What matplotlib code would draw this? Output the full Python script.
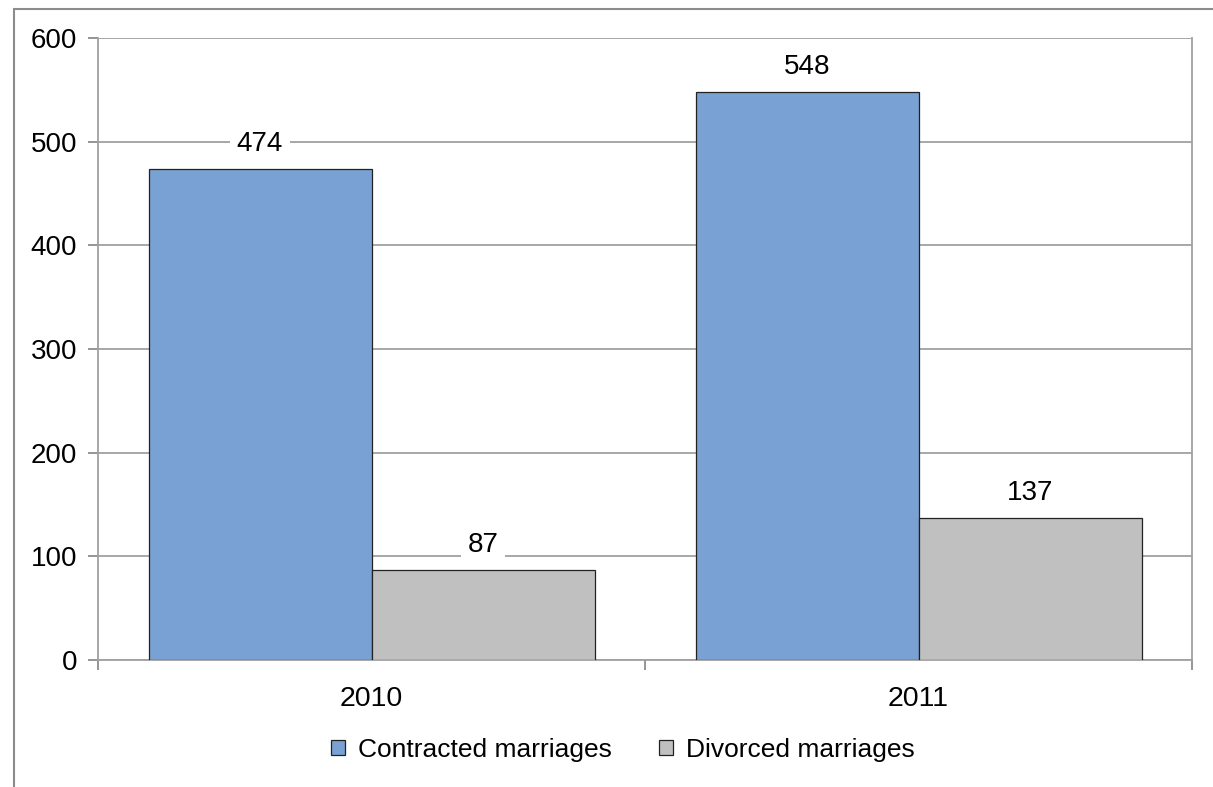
import matplotlib
matplotlib.use("Agg")
import matplotlib.pyplot as plt
from matplotlib.patches import Rectangle
import numpy as np

plt.rcParams['font.family'] = ['Liberation Sans', 'DejaVu Sans']

years = ["2010", "2011"]
contracted = [474, 548]
divorced = [87, 137]
series_names = ["Contracted marriages", "Divorced marriages"]
yticks = [0, 100, 200, 300, 400, 500, 600]

W, H = 1213, 787
fig = plt.figure(figsize=(W / 100, H / 100), dpi=100)

# chart-area border (left and top visible)
fig.add_artist(Rectangle((14 / W, -0.1), 1.2, (H - 9) / H + 0.1, transform=fig.transFigure,
                         fill=False, edgecolor="#8c8c8c", linewidth=1.5))

ax = fig.add_axes([98 / W, 1 - 660 / H, (1192 - 98) / W, (660 - 38) / H])
x = np.arange(len(years))
bw = 223 / 547
blue = "#7aa1d3"
gray = "#c0c0c0"
FS = 20
b1 = ax.bar(x - bw / 2, contracted, bw, color=blue, edgecolor="#222222", linewidth=0.9,
            label=series_names[0], zorder=3)
b2 = ax.bar(x + bw / 2, divorced, bw, color=gray, edgecolor="#222222", linewidth=0.9,
            label=series_names[1], zorder=3)

for bars, vals in ((b1, contracted), (b2, divorced)):
    for r, v in zip(bars, vals):
        ax.annotate(str(v), (r.get_x() + r.get_width() / 2, v), xytext=(0, 25),
                    textcoords="offset pixels", ha="center", va="center", fontsize=FS,
                    zorder=5, bbox=dict(boxstyle="square,pad=0.25", fc="white", ec="none"))

ax.set_xlim(-0.5, 1.5)
ax.set_ylim(0, 600)
ax.set_yticks(yticks)
ax.set_yticklabels([str(t) for t in yticks], fontsize=FS)
ax.yaxis.grid(True, color="#a0a0a0", linewidth=1.3, zorder=0)
ax.set_axisbelow(True)

ax.set_xticks(x)
ax.set_xticklabels(years, fontsize=20.5)
ax.tick_params(axis="x", length=0, pad=19)
ax.set_xticks([-0.5, 0.5, 1.5], minor=True)
ax.tick_params(axis="x", which="minor", length=7, width=1.3, color="#8c8c8c")
ax.tick_params(axis="y", length=7, width=1.3, color="#8c8c8c", pad=8)

for s in ax.spines.values():
    s.set_color("#a0a0a0")
    s.set_linewidth(1.3)
ax.spines["top"].set_visible(False)

fig.legend(handles=[b1, b2], labels=series_names, loc="center", bbox_to_anchor=(0.5136, 1 - 750 / H),
           ncol=2, frameon=False, fontsize=19, handlelength=0.53, handleheight=0.53,
           handletextpad=0.49, columnspacing=1.78)

fig.savefig("out.png", dpi=100, facecolor="white")
